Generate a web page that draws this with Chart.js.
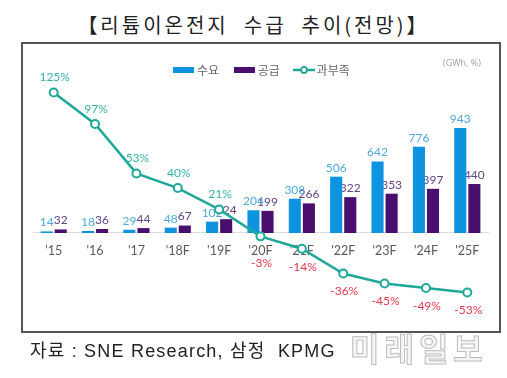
<!DOCTYPE html>
<html><head><meta charset="utf-8">
<script src="https://cdn.jsdelivr.net/npm/chart.js@4.4.0/dist/chart.umd.min.js"></script>
<style>
html,body{margin:0;padding:0;background:#fff;width:507px;height:378px;overflow:hidden;font-family:"Noto Sans CJK KR",sans-serif;}
#title{position:absolute;left:0;width:507px;top:10px;text-align:center;font-size:20px;letter-spacing:3px;color:#222;white-space:pre;font-weight:normal;}
#frame{position:absolute;left:21px;top:42px;width:480px;height:291px;border:2px solid #555;box-sizing:border-box;}
#wrap{position:absolute;left:0;top:0;width:507px;height:378px;}
#legend{position:absolute;top:59px;left:173px;font-size:12px;color:#666;white-space:nowrap;}
#legend span.it{display:inline-block;vertical-align:middle;}
.box{display:inline-block;width:21px;height:6px;vertical-align:middle;margin-right:3px;}
#unit{position:absolute;left:443px;top:56px;font-size:9px;color:#a0a0a0;font-family:"Open Sans",sans-serif;}
#source{position:absolute;left:30px;top:336px;font-size:18px;letter-spacing:1.2px;color:#222;white-space:pre;font-family:"Liberation Sans","Noto Sans CJK KR",sans-serif;}
#wm{position:absolute;left:350px;top:324px;font-size:32px;font-weight:bold;color:#f6f6f6;letter-spacing:5px;-webkit-text-stroke:1px #bdbdbd;font-family:"Noto Sans CJK KR",sans-serif;}
</style></head>
<body>
<div id="frame"></div>
<div id="title">【리튬이온전지  수급  추이(전망)】</div>
<div id="wrap"><canvas id="c" width="507" height="378"></canvas></div>
<div id="legend">
<span class="box" style="background:#0e93e0"></span><span class="it" style="margin-right:12px">수요</span>
<span class="box" style="background:#4a0e6e"></span><span class="it" style="margin-right:10px">공급</span>
<svg width="22" height="10" style="vertical-align:middle;margin-right:2px"><line x1="0" y1="5" x2="22" y2="5" stroke="#1fa89a" stroke-width="2.5"/><circle cx="11" cy="5" r="3" fill="#fff" stroke="#1fa89a" stroke-width="1.8"/></svg><span class="it">과부족</span>
</div>
<div id="unit">(GWh, %)</div>
<div id="source">자료 : SNE Research, 삼정  KPMG</div>
<div id="wm">미래일보</div>
<script>
const categories = ["'15","'16","'17","'18F","'19F","'20F","'21F","'22F","'23F","'24F","'25F"];
const demand = [14,18,29,48,102,204,308,506,642,776,943];
const supply = [32,36,44,67,124,199,266,322,353,397,440];
const balance = [125,97,53,40,21,-3,-14,-36,-45,-49,-53];

const labelFont = '12px Lato, "Open Sans", sans-serif';

const valueLabels = {
  id: 'valueLabels',
  afterDatasetDraw(chart, args) {
    const ds = chart.data.datasets[args.index];
    if (ds.type === 'line') return;
    const ctx = chart.ctx;
    ctx.save();
    ctx.font = labelFont;
    ctx.textAlign = 'center';
    ctx.textBaseline = 'bottom';
    ctx.fillStyle = ds.labelColor;
    args.meta.data.forEach((el, j) => {
      ctx.fillText(String(ds.data[j]), el.x, el.y - 3);
    });
    ctx.restore();
  },
  afterDatasetsDraw(chart) {
    const ctx = chart.ctx;
    ctx.save();
    ctx.font = labelFont;
    ctx.textAlign = 'center';
    ctx.textBaseline = 'middle';
    chart.data.datasets.forEach((ds, i) => {
      if (ds.type !== 'line') return;
      const meta = chart.getDatasetMeta(i);
      const zeroY = chart.scales.y.getPixelForValue(0);
      meta.data.forEach((el, j) => {
        const v = ds.data[j];
        if (v >= 0) {
          ctx.fillStyle = '#34b3a5';
          ctx.fillText(v + '%', el.x + 1, el.y - 15);
        } else {
          ctx.fillStyle = '#e8384d';
          ctx.fillText(v + '%', el.x + 1, Math.max(el.y + 18, zeroY + 30));
        }
      });
    });
    ctx.restore();
  }
};

new Chart(document.getElementById('c'), {
  data: {
    labels: categories,
    datasets: [
      { type: 'line', label: '과부족', data: balance, yAxisID: 'y2', order: 0,
        borderColor: '#1fa89a', borderWidth: 2.5, pointRadius: 4, pointBorderWidth: 2,
        pointBackgroundColor: '#fff', pointBorderColor: '#1fa89a', tension: 0 },
      { type: 'bar', label: '수요', data: demand, yAxisID: 'y', order: 1,
        backgroundColor: '#0e93e0', labelColor: '#4fa9e0',
        categoryPercentage: 0.68, barPercentage: 0.86 },
      { type: 'bar', label: '공급', data: supply, yAxisID: 'y', order: 2,
        backgroundColor: '#4a0e6e', labelColor: '#634487',
        categoryPercentage: 0.68, barPercentage: 0.86 }
    ]
  },
  options: {
    responsive: false,
    animation: false,
    layout: { padding: { left: 33, right: 19, top: 80, bottom: 53 } },
    plugins: { legend: { display: false }, tooltip: { enabled: false } },
    scales: {
      x: {
        position: { y: 0 },
        grid: { display: false, drawTicks: false },
        border: { display: true, color: '#dcdcdc', width: 1 },
        ticks: { color: '#5a5a5a', padding: 10, font: { size: 12.5, family: 'Lato, "Open Sans", sans-serif' } }
      },
      y: { display: false, min: -827, max: 1375 },
      y2: { display: false, min: -81.85, max: 136.1 }
    }
  },
  plugins: [valueLabels]
});
</script>
</body></html>
